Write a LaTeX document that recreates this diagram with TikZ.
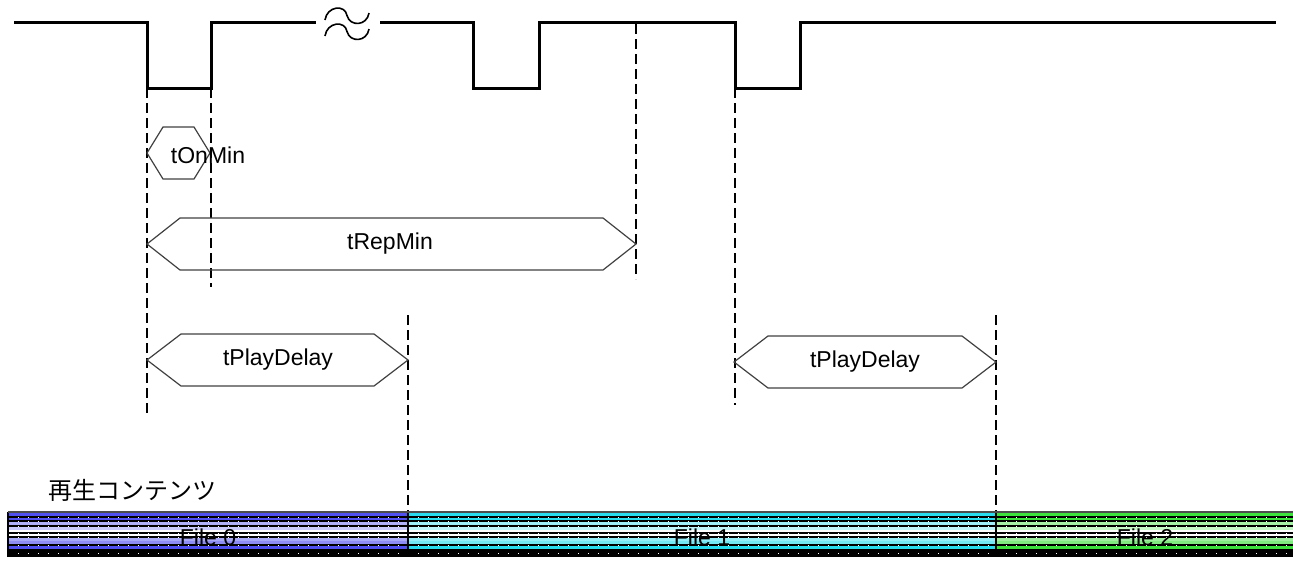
\documentclass[tikz,border=0pt]{standalone}
\usepackage{fontspec}
\setmainfont{Liberation Sans}
\newfontfamily\jpfont{Noto Sans CJK JP}
\definecolor{fzero}{RGB}{80,80,240}
\definecolor{fone}{RGB}{40,220,240}
\definecolor{ftwo}{RGB}{60,225,60}
\begin{document}
\begin{tikzpicture}[
      x=0.5pt, y=-0.5pt,
      wave/.style={line width=1.5pt, line join=miter},
      guide/.style={line width=1pt, dash pattern=on 5pt off 2.5pt},
      span/.style={draw=black!75, line width=0.6pt},
      lbl/.style={font=\fontsize{11.5}{13}\selectfont, inner sep=0pt}
    ]
      \useasboundingbox (0,0) rectangle (1293,563);
      % signal
      \draw[wave] (14,22) -- (147,22) -- (147,88) -- (211,88) -- (211,22) -- (316,22);
      \draw[wave] (380,22) -- (473,22) -- (473,88) -- (539,88) -- (539,22) -- (735,22) -- (735,88) -- (800,88) -- (800,22) -- (1276,22);
      \foreach \d in {0,16}
        \draw[line width=0.8pt] (325,20+\d) .. controls (327,6+\d) and (345,4+\d) .. (347,15.5+\d) .. controls (350,27+\d) and (367,26+\d) .. (369,13+\d);
      % guides
      \draw[guide] (147,88) -- (147,415);
      \draw[guide] (211,88) -- (211,287);
      \draw[guide] (636,24) -- (636,279);
      \draw[guide] (408,315) -- (408,512);
      \draw[guide] (735,88) -- (735,405);
      \draw[guide] (996,315) -- (996,512);
      % timing spans
      \foreach \l/\r/\y/\s in {147/210/153/16, 147/636/244/33, 147/408/360/34, 734/996/362/34}
        \draw[span] (\l,\y) -- (\l+\s,\y-26) -- (\r-\s,\y-26) -- (\r,\y) -- (\r-\s,\y+26) -- (\l+\s,\y+26) -- cycle;
      \node[lbl] (onmin) at (208,155) {tOnMin};
      \node[lbl] (repmin) at (390,244) {tRepMin};
      \node[lbl] (play1) at (278,360) {tPlayDelay};
      \node[lbl] (play2) at (865,362) {tPlayDelay};
      % content bars
      \node[lbl, anchor=west, font=\jpfont\fontsize{12}{14}\selectfont] (content) at (48,490) {再生コンテンツ};
      \foreach \xa/\xb/\c in {8/408/fzero, 408/996/fone, 996/1293/ftwo} {
        \fill[black] (\xa,512) rectangle (\xb,557);
        \foreach \ya/\yb/\s in {513/516/100, 518/520/100, 522/525/45, 527/530/30, 530/532/0, 534/536/0, 538/541/50, 541/544/65, 546/549/100}
          \fill[\c!\s] (\xa,\ya) rectangle (\xb,\yb);
        \foreach \yy in {517,521,526,533,537,545,553}
          \draw[white, line width=0.5pt, dash pattern=on 0.5pt off 4.5pt] (\xa,\yy) -- (\xb,\yy);
      }
      \foreach \xx in {8,408,996}
        \draw[line width=1pt] (\xx,512) -- (\xx,557);
      \draw[black!70, line width=1pt] (8,512) -- (1293,512);
      \node[lbl] (file0) at (208,537) {File 0};
      \node[lbl] (file1) at (702,537) {File 1};
      \node[lbl] (file2) at (1145,537) {File 2};
    \end{tikzpicture}
\end{document}
